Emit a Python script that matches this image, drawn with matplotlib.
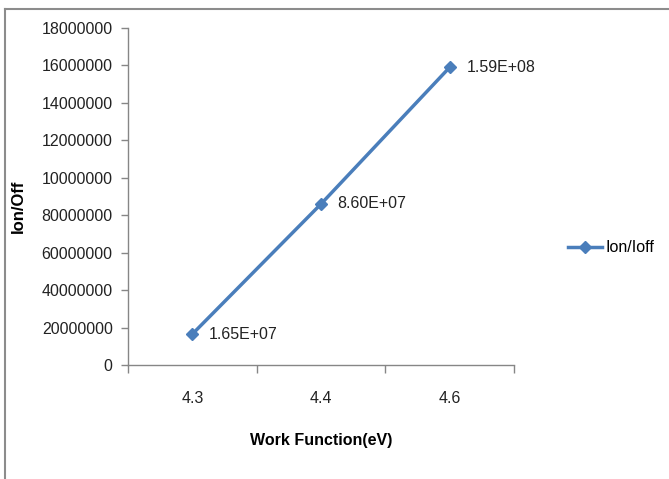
import numpy as np
import matplotlib
matplotlib.use('Agg')
import matplotlib.pyplot as plt
from matplotlib.lines import Line2D

plt.rcParams['font.family'] = ['Liberation Sans', 'DejaVu Sans']

# datos
work_function = ['4.3', '4.4', '4.6']
ion_ioff = [16500000, 86000000, 159000000]
etiquetas = ['1.65E+07', '8.60E+07', '1.59E+08']
y_ticks = [0, 20000000, 40000000, 60000000, 80000000, 100000000,
           120000000, 140000000, 160000000, 180000000]
y_tick_labels = ['0', '20000000', '40000000', '60000000', '80000000',
                 '10000000', '12000000', '14000000', '16000000', '18000000']

azul = '#4A7EBB'
gris = '#868686'

fig = plt.figure(figsize=(6.69, 4.79), dpi=100)
ax = fig.add_axes([128 / 669, 1 - 365 / 479, (514 - 128) / 669, (365 - 28) / 479])

x = np.arange(len(work_function))
ax.plot(x, ion_ioff, color=azul, lw=2.5, marker='D', ms=6.5, label='Ion/Ioff')
for xi, yi, txt in zip(x, ion_ioff, etiquetas):
    ax.annotate(txt, (xi, yi), xytext=(12, 0), textcoords='offset points',
                va='center', ha='left', fontsize=11.5, color='#222222')

ax.set_xlim(-0.5, 2.5)
ax.set_ylim(0, 180000000)
ax.set_yticks(y_ticks)
ax.set_yticklabels(y_tick_labels)
ax.set_xticks(x)
ax.set_xticklabels(work_function)
ax.set_xticks([-0.5, 0.5, 1.5, 2.5], minor=True)
ax.tick_params(axis='x', which='major', length=0, pad=19, labelsize=11.5, labelcolor='#222222')
ax.tick_params(axis='x', which='minor', length=6, width=1, color=gris, direction='out')
ax.tick_params(axis='y', length=5, width=1, color=gris, direction='out', labelsize=11.5,
               labelcolor='#222222', pad=6)

for s in ['top', 'right']:
    ax.spines[s].set_visible(False)
for s in ['left', 'bottom']:
    ax.spines[s].set_color(gris)
    ax.spines[s].set_linewidth(1)

ax.set_xlabel('Work Function(eV)', fontsize=11.5, fontweight='bold', labelpad=19)
ax.set_ylabel('Ion/Off', fontsize=12, fontweight='bold')
ax.yaxis.set_label_coords(-102 / 386, 0.47)

fig.legend(loc='center left', bbox_to_anchor=(562 / 669, 1 - 248 / 479), frameon=False,
           fontsize=11.5, handlelength=2.1, handletextpad=0.2, borderaxespad=0)

# borde del grafico
fig.add_artist(Line2D([4.5 / 669, 4.5 / 669], [0, 1 - 8.5 / 479], color='#8c8c8c', lw=1.5,
                      transform=fig.transFigure))
fig.add_artist(Line2D([4.5 / 669, 1], [1 - 8.5 / 479, 1 - 8.5 / 479], color='#8c8c8c', lw=1.5,
                      transform=fig.transFigure))

fig.savefig('out.png', dpi=100)
